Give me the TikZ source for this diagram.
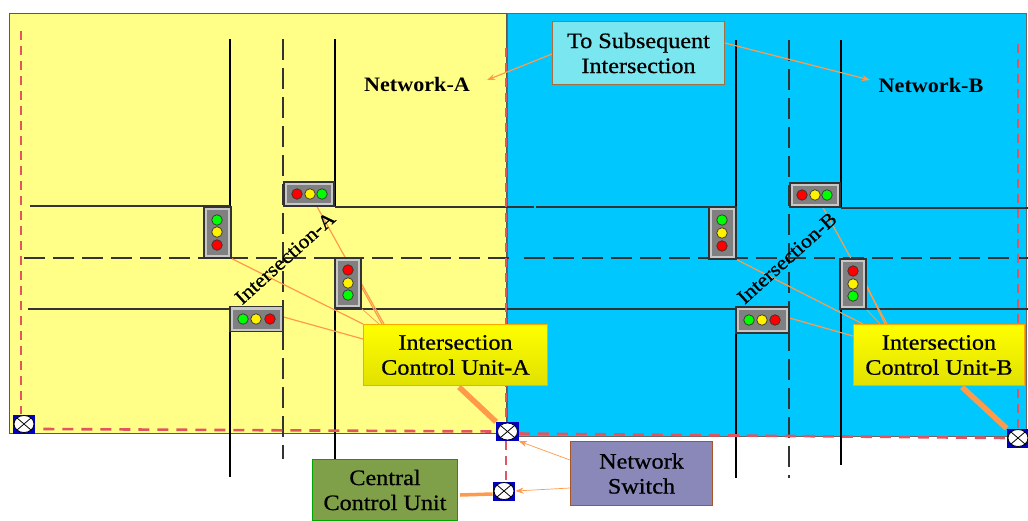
\documentclass[tikz,border=0pt]{standalone}
\usepackage{fontspec}
\setmainfont[FakeStretch=1.1,FakeBold=0.7]{Liberation Serif}
\newfontfamily\netfont[FakeStretch=1.08]{Liberation Serif}
\usetikzlibrary{calc,arrows.meta,shadings}
\pgfdeclarelayer{areas}
\pgfdeclarelayer{wires}
\pgfsetlayers{areas,wires,main}
\definecolor{netyellow}{HTML}{FFFF88}
\definecolor{netblue}{HTML}{00C8FF}
\definecolor{lead}{HTML}{FF9A4A}
\definecolor{reddash}{HTML}{E0555F}
\definecolor{roadc}{HTML}{333333}
\definecolor{swblue}{HTML}{0000C0}
\tikzset{
  x=1pt,y=-1pt,
  netarea/.style={rectangle,anchor=north west,inner sep=0pt,draw=black!65,line width=.8pt},
  road/.style={draw=black,line width=2pt},
  roadh/.style={draw=roadc,line width=2pt},
  cdash/.style={draw=black!80,line width=1.3pt,dash pattern=on 21pt off 8pt},
  leader/.style={draw=lead,line width=1.2pt},
  leadthin/.style={draw=lead,line width=.7pt},
  feed/.style={draw=lead,line width=5.5pt},
  feedc/.style={draw=lead,line width=3.5pt},
  pointer/.style={draw=lead,line width=1.2pt,-{Stealth[length=8pt,width=6pt]}},
  ring/.style={draw=reddash,line width=2.6pt,dash pattern=on 11pt off 8pt},
  ringv/.style={draw=reddash,line width=2.2pt,dash pattern=on 9pt off 6pt},
  lbl/.style={font=\fontsize{22}{25}\selectfont,align=center,text=black,inner sep=0pt},
  netlbl/.style={font=\netfont\bfseries\fontsize{20.5}{24}\selectfont,inner sep=0pt},
  isect/.style={font=\fontsize{20}{24}\selectfont,rotate=42,inner sep=0pt},
  box/.style={rectangle,anchor=north west,inner sep=0pt,line width=1pt},
  lamp/.style={circle,draw=black!80,line width=.7pt,minimum size=10.5pt,inner sep=0pt},
  housing/.style={rectangle,anchor=center,fill=black!22,draw=black!80,line width=1.1pt,inner sep=0pt},
  inner/.style={rectangle,anchor=center,fill=black!50,inner sep=0pt},
  swbox/.style={rectangle,fill=swblue,minimum width=22.5pt,minimum height=19pt,inner sep=0pt},
}
\begin{document}
\begin{tikzpicture}
\useasboundingbox (0,0) rectangle (1028,520);
\begin{pgfonlayer}{areas}
\path[fill=white] (0,0) rectangle (1028,520);
\node[netarea,fill=netyellow,minimum width=497pt,minimum height=420pt] (neta) at (9,13) {};
\node[netarea,fill=netblue,minimum width=519pt,minimum height=423pt,draw=black!60] (netb) at (507,13) {};
\foreach \n/\x/\y in {a1/230/39,a2/230/207,a3/230/308,a4/230/477,a5/335/39,a6/335/207,a7/335/309,a8/335/459,
  a9/30/206,a10/230/206,a11/335/207,a12/534/207,a13/28/309,a14/230/309,a15/335/309,a16/534/309,a17/283/39,a18/283/459,a19/24/258,a20/511/258,
  b1/736/40,b2/736/208,b3/736/309,b4/736/478,b5/841/40,b6/841/208,b7/841/310,b8/841/465,
  b9/536/207,b10/736/207,b11/841/208,b12/1028/208,b13/534/309,b14/736/309,b15/841/309,b16/1028/309,b17/789/40,b18/789/478,b19/524/258,b20/1028/258}
  {\coordinate (\n) at (\x,\y);}
\draw[road] (a1)--(a2) (a3)--(a4) (a5)--(a6) (a7)--(a8);
\draw[roadh] (a9)--(a10) (a11)--(a12) (a13)--(a14) (a15)--(a16);
\draw[cdash] (a17)--(a18);
\draw[cdash] (a19)--(a20);
\draw[road] (b1)--(b2) (b3)--(b4) (b5)--(b6) (b7)--(b8);
\draw[roadh] (b9)--(b10) (b11)--(b12) (b13)--(b14) (b15)--(b16);
\draw[cdash] (b17)--(b18);
\draw[cdash] (b19)--(b20);
\end{pgfonlayer}
% traffic lights A
\node[housing,minimum width=50pt,minimum height=24pt] (lat) at (309,194) {};
\node[inner,minimum width=44pt,minimum height=18pt] (lati) at (lat) {};
\node[lamp,fill=red] (lat1) at (297,194) {};
\node[lamp,fill=yellow] (lat2) at (310,194) {};
\node[lamp,fill=green] (lat3) at (322,194) {};
\node[housing,minimum width=27pt,minimum height=51pt] (lal) at (217.5,232.5) {};
\node[inner,minimum width=21pt,minimum height=45pt] (lali) at (lal) {};
\node[lamp,fill=green] (lal1) at (217,220) {};
\node[lamp,fill=yellow] (lal2) at (217,232) {};
\node[lamp,fill=red] (lal3) at (217,245) {};
\node[housing,minimum width=26pt,minimum height=50pt] (lar) at (348,283) {};
\node[inner,minimum width=20pt,minimum height=44pt] (lari) at (lar) {};
\node[lamp,fill=red] (lar1) at (348,270) {};
\node[lamp,fill=yellow] (lar2) at (348,283) {};
\node[lamp,fill=green] (lar3) at (348,295) {};
\node[housing,minimum width=53pt,minimum height=25pt] (lab) at (256.5,319) {};
\node[inner,minimum width=47pt,minimum height=19pt] (labi) at (lab) {};
\node[lamp,fill=green] (lab1) at (243,319) {};
\node[lamp,fill=yellow] (lab2) at (256,319) {};
\node[lamp,fill=red] (lab3) at (270,319) {};
% traffic lights B
\node[housing,minimum width=50pt,minimum height=24pt] (lbt) at (815,195) {};
\node[inner,minimum width=44pt,minimum height=18pt] (lbti) at (lbt) {};
\node[lamp,fill=red] (lbt1) at (802,195) {};
\node[lamp,fill=yellow] (lbt2) at (815,195) {};
\node[lamp,fill=green] (lbt3) at (827,195) {};
\node[housing,minimum width=27pt,minimum height=52pt] (lbl) at (722.5,233) {};
\node[inner,minimum width=21pt,minimum height=46pt] (lbli) at (lbl) {};
\node[lamp,fill=green] (lbl1) at (722,220) {};
\node[lamp,fill=yellow] (lbl2) at (722,233) {};
\node[lamp,fill=red] (lbl3) at (722,246) {};
\node[housing,minimum width=26pt,minimum height=50pt] (lbr) at (853,284) {};
\node[inner,minimum width=20pt,minimum height=44pt] (lbri) at (lbr) {};
\node[lamp,fill=red] (lbr1) at (853,271) {};
\node[lamp,fill=yellow] (lbr2) at (853,284) {};
\node[lamp,fill=green] (lbr3) at (853,296) {};
\node[housing,minimum width=53pt,minimum height=26pt] (lbb) at (762.5,320) {};
\node[inner,minimum width=47pt,minimum height=20pt] (lbbi) at (lbb) {};
\node[lamp,fill=green] (lbb1) at (749,320) {};
\node[lamp,fill=yellow] (lbb2) at (762,320) {};
\node[lamp,fill=red] (lbb3) at (775,320) {};
% rotated labels
\node[isect] (ia) at (285,258) {Intersection-A};
\node[isect] (ib) at (787,258) {Intersection-B};
% network labels
\node[netlbl] (na) at (417,84.5) {Network-A};
\node[netlbl] (nb) at (931,85) {Network-B};
% boxes
\node[box,lbl,draw=orange!70!yellow,top color=yellow,bottom color=yellow!88!black,minimum width=184pt,minimum height=61pt] (icua) at (363,324) {Intersection\\Control Unit-A};
\node[box,lbl,draw=orange!70!yellow,top color=yellow,bottom color=yellow!88!black,minimum width=171pt,minimum height=61pt] (icub) at (853,324) {Intersection\\Control Unit-B};
\node[box,lbl,draw=green!65!black,fill={rgb,255:red,127;green,160;blue,72},minimum width=145pt,minimum height=61pt] (ccu) at (312,459) {Central\\Control Unit};
\node[box,lbl,draw={rgb,255:red,165;green,85;blue,40},fill={rgb,255:red,137;green,136;blue,184},minimum width=142pt,minimum height=64pt] (ns) at (570,441) {Network\\Switch};
\node[box,lbl,draw={rgb,255:red,165;green,110;blue,60},fill={rgb,255:red,122;green,230;blue,240},minimum width=172pt,minimum height=63pt] (tsi) at (552,21) {To Subsequent\\Intersection};
% switches
\foreach \n/\x/\y in {swa/24/424,swb/507.5/431.5,swc/504/491,swd/1018/438}{
  \node[swbox] (\n) at (\x,\y) {};
  \path[fill=white,draw=black,line width=.8pt] (\x,\y) ellipse (10pt and 8.5pt);
  \draw[black,line width=.8pt] ($(\x,\y)+(-7,-6)$)--($(\x,\y)+(7,6)$) ($(\x,\y)+(-7,6)$)--($(\x,\y)+(7,-6)$);
}
\begin{pgfonlayer}{wires}
% ring
\coordinate (r1) at (21,31);
\coordinate (r2) at (506,48);
\coordinate (r3) at (1018,44);
\draw[ringv] (r1)--(swa.north -| r1);
\draw[ring] (swa.east)++(8,5)--(swb.west);
\draw[ring] (swb.east)++(0,2)--(swd.west);
\draw[ringv] (r2)--(swb.north -| r2);
\draw[ringv] (swb.south -| r2)--(swc.north -| r2);
\draw[ringv] (r3)--(swd.north);
% leaders
\draw[leader] (lal.south east)--(icua.north west);
\draw[leader] ($(lab.east)+(0,-2)$)--($(icua.north west)+(0,15)$);
\draw[leader] (lat.south)++(8,0)--($(icua.north west)+(19,0)$);
\draw[leader] ($(lar.east)+(0,1)$)--($(icua.north west)+(21,0)$);
\draw[leadthin] (lar.south east)--($(icua.north west)+(16,0)$);
\draw[leader] (lbl.south east)--($(icub.north west)+(10,0)$);
\draw[leader] ($(lbb.east)+(0,-2)$)--($(icub.north west)+(0,12)$);
\draw[leader] (lbt.south)++(8,0)--($(icub.north west)+(34,0)$);
\draw[leader] ($(lbr.east)+(0,1)$)--($(icub.north west)+(32,0)$);
\draw[leadthin] (lbr.south east)--($(icub.north west)+(27,0)$);
% feeds
\draw[feed] ($(icua.south west)+(96,1)$)--(swb.north west);
\draw[feed] ($(icub.south west)+(109,1)$)--(swd.north west);
\draw[feedc] ($(ccu.east)+(2,5)$)--(swc.west |- 493,494);
\end{pgfonlayer}
% pointers
\coordinate (pa) at (487,80);
\coordinate (pb) at (870,80);
\draw[pointer] (tsi.west)++(0,1)--(pa);
\draw[pointer] ($(tsi.north east)+(0,22)$)--(pb);
\draw[pointer,line width=.7pt] ($(ns.north west)+(0,19)$)--(swb.south east);
\draw[pointer,line width=.7pt] ($(ns.north west)+(0,47)$)--(swc.east);
\end{tikzpicture}
\end{document}
